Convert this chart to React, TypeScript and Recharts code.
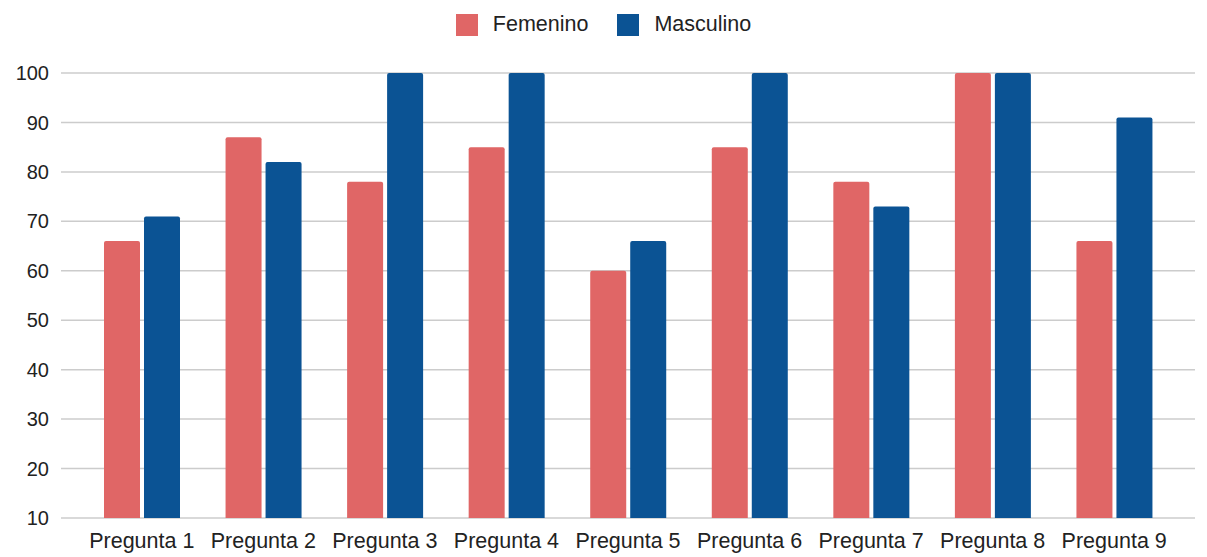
import { BarChart, Bar, XAxis, YAxis, CartesianGrid, Legend } from "recharts";

const categories = [
  "Pregunta 1",
  "Pregunta 2",
  "Pregunta 3",
  "Pregunta 4",
  "Pregunta 5",
  "Pregunta 6",
  "Pregunta 7",
  "Pregunta 8",
  "Pregunta 9",
];
const femenino = [66, 87, 78, 85, 60, 85, 78, 100, 66];
const masculino = [71, 82, 100, 100, 66, 100, 73, 100, 91];
const yTicks = [10, 20, 30, 40, 50, 60, 70, 80, 90, 100];

const data = categories.map((name, i) => ({
  name,
  Femenino: femenino[i],
  Masculino: masculino[i],
}));

const FONT = "'Liberation Sans', Arial, sans-serif";

export default function App() {
  return (
    <div style={{ position: "absolute", left: 0, top: 0, fontFamily: FONT }}>
      <BarChart
        width={1207}
        height={557}
        data={data}
        margin={{ top: 20, right: 12, left: 0, bottom: 9 }}
        barSize={36}
        barGap={4}
      >
        <CartesianGrid vertical={false} stroke="#cccccc" strokeWidth={1.5} />
        <XAxis
          dataKey="name"
          axisLine={false}
          tickLine={false}
          padding={{ left: 20, right: 20 }}
          height={30}
          tickMargin={9}
          interval={0}
          tick={{ fill: "#222222", fontSize: 21.5, fontFamily: FONT }}
        />
        <YAxis
          domain={[10, 100]}
          ticks={yTicks}
          axisLine={false}
          tickLine={false}
          width={61}
          tickMargin={6}
          tick={{ fill: "#222222", fontSize: 20, fontFamily: FONT }}
        />
        <Legend
          verticalAlign="top"
          align="center"
          iconType="square"
          iconSize={22}
          height={53}
          wrapperStyle={{ top: 12, left: 11, fontSize: 21.5, fontFamily: FONT }}
          formatter={(value, _entry, index) => (
            <span
              style={{
                color: "#222222",
                marginLeft: 11,
                marginRight: index === 0 ? 19 : 0,
              }}
            >
              {value}
            </span>
          )}
        />
        <Bar dataKey="Femenino" fill="#e06666" radius={[2, 2, 0, 0]} isAnimationActive={false} />
        <Bar dataKey="Masculino" fill="#0b5394" radius={[2, 2, 0, 0]} isAnimationActive={false} />
      </BarChart>
    </div>
  );
}
